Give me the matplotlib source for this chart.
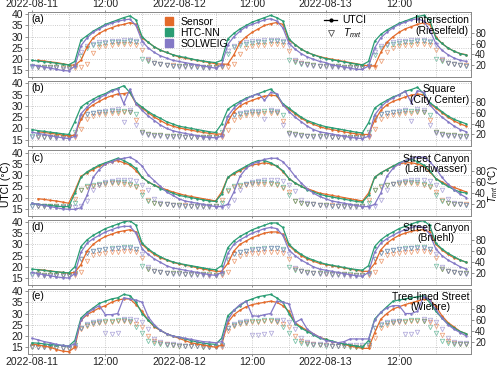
#!/usr/bin/env python3
# UTCI / Tmrt time series at five sites: sensor vs HTC-NN vs SOLWEIG
import numpy as np
import pandas as pd
import matplotlib
matplotlib.use('Agg')
import matplotlib.pyplot as plt
import matplotlib.dates as mdates
from matplotlib.lines import Line2D
from matplotlib.patches import Patch

nan = np.nan
times = pd.date_range('2022-08-11 00:00', periods=72, freq='h')

panel_tags = ['(a)', '(b)', '(c)', '(d)', '(e)']
site_names = ['Intersection\n(Rieselfeld)', 'Square\n(City Center)',
              'Street Canyon\n(Landwasser)', 'Street Canyon\n(Bruehl)',
              'Tree-lined Street\n(Wiehre)']
model_names = ['Sensor', 'HTC-NN', 'SOLWEIG']

# ---- (a) Intersection (Rieselfeld) ----
a_sen_utci = [nan,19.5,19.2,18.8,18.5,18.0,17.5,17.3,19.5,25.5,29.5,31.5,33.0,34.0,35.0,35.5,36.3,35.5,29.5,27.5,25.5,24.0,23.0,22.0,
              21.0,20.5,20.0,19.5,19.0,18.5,18.0,17.8,17.8,22.0,27.5,30.0,32.0,33.5,35.0,35.8,36.3,35.5,28.5,26.5,24.5,23.0,22.0,21.2,
              20.5,20.0,19.5,19.0,18.5,18.0,17.5,17.0,17.0,23.0,27.5,30.0,32.0,33.5,34.5,35.5,36.2,35.5,30.0,27.0,25.0,23.5,22.5,22.0]
a_htc_utci = [19.5,19.2,18.9,18.6,18.2,17.8,17.5,19.0,28.5,30.5,32.5,34.0,35.5,36.5,37.5,38.5,39.3,37.5,30.0,27.5,25.5,24.0,23.0,22.0,
              21.3,20.8,20.2,19.6,19.2,18.8,18.5,19.5,29.0,31.5,33.5,35.0,36.5,37.5,38.5,39.5,38.5,37.0,29.0,26.5,24.5,23.0,22.0,21.0,
              20.3,19.8,19.3,18.8,18.3,17.8,17.5,19.0,28.0,31.0,33.0,34.5,36.0,37.0,38.0,39.0,39.5,37.5,29.5,27.0,25.0,23.5,22.5,21.8]
a_sol_utci = [17.5,17.0,16.5,16.0,15.5,15.0,14.8,17.0,26.0,29.5,32.0,33.5,35.0,36.0,36.8,37.5,37.8,35.0,28.0,25.0,23.0,21.5,20.5,19.5,
              19.0,18.5,18.0,17.5,17.0,16.5,16.0,17.5,26.5,30.0,32.5,34.5,35.5,36.5,37.5,38.0,37.0,34.0,27.0,24.5,22.5,21.0,20.0,19.0,
              18.5,17.5,17.0,16.5,16.0,15.5,15.5,17.0,25.0,29.5,32.0,34.0,35.5,36.5,37.5,38.0,37.0,33.0,27.0,24.0,22.0,20.5,19.5,19.0]
a_sen_tmrt = [nan,17,16.5,16,16,15.5,15.5,15.5,17,23,43,54,56,58,59,60,60,58,48,29,25,23,21,20,
              19.5,19,18.5,18,17.5,17,16.5,16.5,17,22,40,52,55,57,58,59,59,57,46,28,24,22,20.5,19.5,
              19,18.5,18,17.5,17,16.5,16,16,16.5,28,45,52,55,57,58,59,59,57,48,29,25,23,21,20]
a_htc_tmrt = [18,17.5,17,17,16.5,16.5,16,19,37,52,57,59,61,62,63,63.5,64,62,31,27,24,22,20.5,19.5,
              19,18.5,18,17.5,17.5,17,17,19,40,53,58,60,61,62,63,64,64,62,30,26,23,21.5,20.5,19.5,
              19,18.5,18,17.5,17,17,16.5,19,38,52,57,60,61,62,63,64,64,62,31,27,24,22,20.5,19.5]
a_sol_tmrt = [16.5,16,15.5,15,14.5,14,14,19,45,55,60,62,63,64,65,66,66,65,60,31,25,22,20,18.5,
              17.5,17,16.5,16,15.5,15,15,19,46,56,61,63,64,65,66,67,66,64,58,30,24,21,19.5,18,
              17,16.5,16,15.5,15,14.5,14.5,18,44,55,60,62,64,65,66,66,66,64,58,31,25,22,20,18.5]

# ---- (b) Square (City Center) ----
b_sen_utci = [nan,18.5,18.2,17.8,17.5,17.0,16.7,17.0,24.0,28.5,30.5,32.0,33.5,34.5,35.3,35.5,36.0,31.0,29.0,27.0,25.0,23.5,22.0,21.0,
              20.3,19.7,19.2,18.7,18.2,17.8,17.5,17.5,23.0,27.5,30.0,31.5,32.5,33.5,34.3,34.8,34.5,30.5,28.5,26.5,24.5,23.0,21.8,20.8,
              20.0,19.5,19.0,18.5,18.0,17.6,17.3,17.3,23.5,28.0,30.5,32.0,33.0,34.0,34.8,35.3,35.0,31.0,29.0,27.0,25.0,23.3,22.0,21.0]
b_htc_utci = [19.5,19.0,18.7,18.3,18.0,17.6,17.3,23.0,29.5,31.5,33.0,34.5,35.5,37.0,37.8,39.0,36.0,31.5,29.5,27.5,25.8,24.5,23.0,22.0,
              21.0,20.5,20.0,19.5,19.0,18.5,18.2,22.0,28.5,30.5,32.0,33.5,34.5,35.5,36.5,37.5,35.0,31.0,29.0,27.0,25.0,23.5,22.5,21.5,
              20.8,20.3,19.8,19.3,18.8,18.3,18.0,22.5,29.0,31.0,32.5,34.0,35.0,36.5,37.3,38.3,35.5,31.5,29.5,27.5,25.5,24.0,23.0,22.0]
b_sol_utci = [18.3,17.8,17.3,16.8,16.3,15.8,15.5,16.5,26.5,29.5,32.0,33.5,35.0,36.5,37.5,31.0,37.5,31.0,28.0,25.5,23.5,21.5,20.0,19.0,
              18.3,17.8,17.3,16.8,16.3,16.0,15.8,16.5,25.5,29.0,31.5,33.0,34.5,35.5,32.5,36.0,35.5,30.5,27.5,25.0,23.0,21.0,19.5,18.5,
              18.0,17.5,17.0,16.5,16.0,15.7,15.5,16.5,26.0,29.5,32.0,33.5,35.0,36.5,31.5,36.8,36.0,30.5,27.5,25.0,23.0,21.0,19.5,18.5]
b_sen_tmrt = [nan,16,15.5,15,15,14.5,14.5,15,30,48,54,57,58,59,60,61,61,46,24,21,19.5,18.5,17.5,17,
              16.5,16,15.5,15,15,14.5,14.5,15,29,47,53,56,57,58,59,60,60,45,23,20.5,19,18,17.5,17,
              16.5,16,15.5,15,15,14.5,14.5,15,30,48,54,56,58,59,60,61,61,46,24,21,19.5,18.5,18,17.5]
b_htc_tmrt = [17,16.5,16,16,15.5,15,15,25,52,57,59,61,62,63,64,64,62,57,24,21,19.5,18.5,17.5,17,
              16.5,16,16,15.5,15,15,15,24,50,56,58,60,61,62,63,63,61,55,23,20.5,19,18,17.5,17,
              16.5,16,16,15.5,15,15,15,25,51,57,59,61,62,63,64,64,62,56,24,21,19.5,18.5,18,17.5]
b_sol_tmrt = [16,15.5,15,14.5,14,14,13.5,18,50,57,60,62,64,65,66,43,65,37,22,19,17.5,16.5,16,15.5,
              15.5,15,14.5,14.5,14,13.5,13.5,17,48,56,59,61,63,64,48,65,64,38,21,18.5,17,16.5,16,15.5,
              15.5,15,14.5,14.5,14,13.5,13.5,17,49,57,60,62,64,65,44,66,65,38,22,19,17.5,16.5,16,15.5]

# ---- (c) Street Canyon (Landwasser) ----
c_sen_utci = [nan,19.5,19.2,18.8,18.5,18.0,17.5,23.0,29.5,31.0,32.5,34.0,35.0,36.0,36.5,35.5,34.5,32.0,29.0,27.0,25.5,24.5,23.5,22.5,
              21.8,21.0,20.5,20.0,19.5,19.0,18.5,22.5,29.0,30.5,32.0,33.5,34.5,35.0,35.5,35.0,34.0,31.5,28.5,26.5,25.0,24.0,23.0,22.0,
              21.5,21.0,20.5,20.0,19.5,19.0,18.5,22.0,29.0,31.0,32.5,34.0,35.0,35.5,35.5,35.0,34.0,31.5,28.5,27.0,25.5,24.5,23.5,22.5]
c_htc_utci = [17.5,17.0,16.8,16.5,16.2,16.0,16.0,22.0,29.0,31.5,33.0,34.5,35.5,36.5,37.5,36.5,35.0,33.0,29.0,27.0,25.5,24.0,23.0,22.0,
              21.0,20.5,20.0,19.5,19.0,18.5,18.3,21.5,29.0,31.0,32.5,34.0,35.5,36.5,36.5,35.5,34.0,32.0,28.5,26.5,25.0,23.5,22.5,21.5,
              20.8,20.3,19.8,19.3,18.8,18.3,18.0,21.0,29.0,31.0,32.5,34.0,35.5,36.5,37.0,36.0,34.5,32.0,28.5,26.5,25.0,23.5,22.5,22.0]
c_sol_utci = [17.5,17.0,16.5,16.0,15.5,15.0,14.8,14.8,15.5,21.0,29.0,32.5,35.0,36.0,37.0,37.5,38.0,36.5,34.0,30.0,27.5,25.0,22.5,21.0,
              19.5,18.5,18.0,17.5,17.0,16.5,16.0,16.0,17.0,22.5,29.5,33.0,35.0,36.0,37.0,37.5,37.5,36.0,33.0,29.5,26.5,24.0,22.0,20.5,
              19.5,18.5,18.0,17.5,17.0,16.5,16.0,16.0,17.0,22.0,29.5,33.0,35.0,36.5,37.5,38.0,38.0,36.0,33.0,29.0,26.0,23.5,21.5,20.0]
c_sen_tmrt = [nan,16,15.5,15,15,14.5,14.5,28,45,50,53,55,57,58,58,57,55,50,42,26,22,20,19,18,
              17.5,17,16.5,16,15.5,15,15,27,44,50,53,55,56,57,57,56,54,49,41,25,21.5,20,19,18,
              17.5,17,16.5,16,15.5,15,15,27,45,51,54,56,57,58,58,57,55,50,42,26,22,20,19,18.5]
c_htc_tmrt = [16.5,16,15.5,15.5,15,15,15,22,46,52,55,57,58,59,60,59,57,52,36,24,21,19.5,18.5,17.5,
              17,16.5,16,15.5,15,15,15,22,46,52,55,57,58,59,59,58,56,51,35,24,21,19.5,18.5,17.5,
              17,16.5,16,15.5,15,15,15,22,46,52,55,57,58,59,60,59,57,52,36,24,21,19.5,18.5,18]
c_sol_tmrt = [16,15.5,15,14.5,14,13.5,13.5,13.5,16,25,45,55,59,61,63,64,64,62,55,45,28,22,19,17.5,
              16.5,16,15,14.5,14,13.5,13.5,13.5,16,27,46,56,60,62,63,64,64,61,54,44,27,21,19,17.5,
              16.5,16,15,14.5,14,13.5,13.5,13.5,16,26,46,56,60,62,63,64,64,62,55,45,28,22,19,18]

# ---- (d) Street Canyon (Bruehl) ----
d_sen_utci = [nan,18.8,18.5,18.2,17.8,17.5,17.2,17.5,21.0,27.0,30.0,32.0,33.5,34.5,35.5,36.0,36.5,35.5,30.0,27.5,25.5,24.0,23.0,22.0,
              21.3,20.8,20.2,19.6,19.0,18.5,18.0,18.0,21.5,27.0,30.0,31.5,33.0,34.0,35.0,35.5,35.5,34.5,29.5,27.0,25.0,23.5,22.5,21.5,
              21.0,20.5,20.0,19.5,19.0,18.5,18.0,18.0,21.5,27.5,30.5,32.5,34.0,35.0,35.8,36.3,36.5,35.5,30.0,27.5,25.5,24.0,23.0,22.0]
d_htc_utci = [19.0,18.7,18.4,18.0,17.8,17.5,17.3,20.0,29.0,32.0,34.0,35.5,37.0,38.0,39.0,40.0,40.5,38.5,30.5,28.0,26.0,24.5,23.2,22.2,
              21.5,21.0,20.5,20.0,19.5,19.0,18.7,20.5,28.5,31.5,33.5,35.0,36.5,37.5,38.5,39.5,39.5,37.5,30.0,27.5,25.5,24.0,23.0,22.0,
              21.2,20.7,20.2,19.7,19.2,18.8,18.5,20.5,29.0,32.0,34.0,35.5,37.0,38.0,39.0,40.0,40.5,38.5,30.5,28.0,26.0,24.5,23.0,22.0]
d_sol_utci = [17.5,17.0,16.5,16.0,15.5,15.2,15.0,17.0,26.5,30.5,32.5,34.0,35.5,36.5,37.5,38.0,38.0,35.0,28.0,25.5,23.5,22.0,20.5,19.5,
              19.0,18.5,18.0,17.5,17.0,16.5,16.2,17.5,26.0,30.0,32.0,33.5,35.0,36.0,37.0,37.5,37.0,34.0,27.5,25.0,23.0,21.5,20.0,19.0,
              18.5,18.0,17.5,17.0,16.5,16.0,15.8,17.5,26.5,30.5,32.5,34.0,35.5,36.5,37.5,38.0,37.5,34.5,28.0,25.0,23.0,21.5,20.0,19.0]
d_sen_tmrt = [nan,17,16.5,16,16,15.5,15.5,15.5,22,42,52,55,57,58,59,60,60,58,47,28,24,22,20.5,19.5,
              19,18.5,18,17.5,17,16.5,16,16,21,41,51,54,56,57,58,59,59,57,46,27,23.5,21.5,20,19,
              18.5,18,17.5,17,16.5,16,16,16,22,42,52,55,57,58,59,60,60,58,47,28,24,22,20.5,19.5]
d_htc_tmrt = [17.5,17,16.5,16.5,16,16,15.5,20,45,56,60,62,64,65,66,67,67,64,32,27,24,22,20.5,19.5,
              19,18.5,18,17.5,17,17,16.5,20,44,55,59,61,63,64,65,66,66,63,31,26,23.5,21.5,20,19,
              19,18.5,18,17.5,17,16.5,16.5,20,45,56,60,62,64,65,66,67,67,64,32,27,24,22,20.5,19.5]
d_sol_tmrt = [16,15.5,15,14.5,14,14,13.5,18,46,56,60,62,63,64,65,66,66,63,55,30,24,21,19.5,18,
              17.5,17,16.5,16,15.5,15,14.5,18,45,55,59,61,62,63,64,65,65,62,54,29,23,20.5,19,17.5,
              17,16.5,16,15.5,15,14.5,14.5,18,46,56,60,62,63,64,65,66,66,63,55,30,24,21,19.5,18]

# ---- (e) Tree-lined Street (Wiehre) ----
e_sen_utci = [16.5,16.0,15.5,15.0,14.0,13.3,13.0,15.0,27.0,29.5,31.0,32.5,33.5,35.0,36.0,36.5,36.5,34.0,31.0,27.0,24.0,22.5,21.0,20.0,
              19.0,18.0,17.0,16.5,16.0,15.5,15.0,16.0,26.0,29.5,31.5,33.0,34.0,34.5,35.0,35.5,35.0,33.5,31.0,26.0,24.0,22.5,21.0,19.5,
              18.5,17.5,17.0,16.5,15.5,15.0,14.5,14.5,21.5,27.5,30.0,32.0,33.0,34.0,34.8,35.5,36.3,36.0,33.3,29.0,26.0,24.0,22.0,21.0]
e_htc_utci = [17.0,16.8,16.5,16.2,16.0,15.8,15.5,18.0,28.0,30.5,32.5,34.5,35.5,36.5,37.0,38.5,38.0,35.0,30.0,27.0,24.5,22.5,21.0,20.0,
              19.5,18.8,18.0,17.3,16.8,16.5,16.3,19.0,29.0,31.5,33.5,35.5,36.5,37.5,38.0,38.5,37.0,35.0,30.0,25.5,23.5,22.0,20.5,19.0,
              18.5,17.8,17.0,16.5,16.0,15.5,15.0,18.0,27.5,30.5,33.0,35.5,36.0,36.5,37.0,37.5,37.8,35.0,31.0,28.0,25.5,23.5,22.0,21.0]
e_sol_utci = [19.0,18.3,17.5,17.0,16.3,15.8,15.5,16.5,27.0,30.0,32.0,33.5,29.5,29.5,30.0,37.0,36.5,36.0,35.0,28.5,25.0,22.5,21.0,20.0,
              19.5,19.0,18.5,18.0,17.5,17.3,17.0,17.5,27.0,31.5,34.0,35.5,29.0,28.8,29.5,30.0,35.5,35.0,34.3,26.0,27.5,23.0,21.0,19.5,
              18.0,17.5,17.0,17.5,18.7,18.7,18.7,18.7,27.0,30.5,32.5,33.5,33.5,30.0,30.0,31.0,37.5,36.0,31.8,28.0,25.0,23.0,21.5,20.0]
e_sen_tmrt = [11,10.5,10,9.5,9,8.5,8,9,44,50,53,55,56,57,58,58,57,53,47,32,22,18,16,15,
              13.5,13,12.5,12,11.5,11,10.5,11,40,50,53,55,56,57,58,58,57,53,47,32,22,18,16,15,
              14,13.5,13,12.5,12,11.5,11,11,28,46,52,55,56,57,58,58,58,56,50,33,22,18.5,17,16.5]
e_htc_tmrt = [11,10.5,10,10,9.5,9,9,14,46,52,55,57,58,59,60,60,58,48,36,22,18.5,16.5,15,14,
              13.5,13,12.5,12,11.5,11,11,15,46,52,55,57,58,59,60,60,58,48,36,22,18,16.5,15,14,
              13.5,13,12.5,12,11.5,11,11,15,46,52,55,57,58,59,60,60,58,48,36,22,18.5,17,16.5,16]
e_sol_tmrt = [12,11.5,11,10.5,10,9.5,9,11,46,53,56,58,36,35,36,62,62,61,57,44,26,20,17,15.5,
              14,13.5,13,12.5,12,11.5,11.5,13,45,53,56,58,33,33,34,36,61,60,57,44,28,20,17,15.5,
              14,13.5,13,14,15,15,15,15,45,53,56,58,58,35,35,38,62,60,57,44,28,20,18,17.5]

utci = [[a_sen_utci, a_htc_utci, a_sol_utci], [b_sen_utci, b_htc_utci, b_sol_utci],
        [c_sen_utci, c_htc_utci, c_sol_utci], [d_sen_utci, d_htc_utci, d_sol_utci],
        [e_sen_utci, e_htc_utci, e_sol_utci]]
tmrt = [[a_sen_tmrt, a_htc_tmrt, a_sol_tmrt], [b_sen_tmrt, b_htc_tmrt, b_sol_tmrt],
        [c_sen_tmrt, c_htc_tmrt, c_sol_tmrt], [d_sen_tmrt, d_htc_tmrt, d_sol_tmrt],
        [e_sen_tmrt, e_htc_tmrt, e_sol_tmrt]]

colors = ['#e36a2a', '#2a9d74', '#8479c6']

plt.rcParams.update({
    'font.family': ['Liberation Sans', 'DejaVu Sans'], 'font.size': 7.5,
    'mathtext.fontset': 'custom', 'mathtext.rm': 'Liberation Sans',
    'mathtext.it': 'Liberation Sans:italic',
    'axes.edgecolor': '#888888', 'xtick.color': '#666666', 'ytick.color': '#666666',
    'xtick.labelcolor': '#222222', 'ytick.labelcolor': '#222222',
})


def fmt_date(x, pos=None):
    d = mdates.num2date(x)
    return d.strftime('%Y-%m-%d') if d.hour == 0 else d.strftime('%H:%M')


W, H = 500, 368
fig = plt.figure(figsize=(W / 100, H / 100), dpi=100)
x0 = times[0] - pd.Timedelta(minutes=39)
x1 = times[0] + pd.Timedelta(hours=71, minutes=45)

ph, pitch = 65.2, 69.2
for i in range(5):
    top = 12 + i * pitch
    ax = fig.add_axes([28 / W, 1 - (top + ph) / H, 443 / W, ph / H])
    ax2 = ax.twinx()
    for k in range(3):
        ax2.plot(times, tmrt[i][k], ls='none', marker='v', ms=3.2, mfc='none',
                 mec=colors[k], mew=0.6, alpha=0.6)
        ax.plot(times, utci[i][k], color=colors[k], lw=0.9, marker='.', ms=1.5)
    ax.set_zorder(ax2.get_zorder() + 1)
    ax.patch.set_visible(False)

    ax.set_xlim(x0, x1)
    ax.set_ylim(12, 41)
    ax.set_yticks([15, 20, 25, 30, 35, 40])
    ax2.set_ylim(-2, 118)
    ax2.set_yticks([20, 40, 60, 80])
    ax.xaxis.set_major_locator(mdates.HourLocator(byhour=[0, 12]))
    ax.xaxis.set_minor_locator(mdates.HourLocator(byhour=[6, 18]))
    ax.xaxis.set_major_formatter(plt.FuncFormatter(fmt_date))
    ax.grid(True, which='both', axis='x', ls=':', lw=0.6, color='#bbbbbb')
    ax.grid(True, which='major', axis='y', ls=':', lw=0.6, color='#bbbbbb')
    ax.tick_params(axis='both', which='both', length=2, width=0.5, pad=1.5)
    ax.tick_params(axis='x', which='major', length=1.5, pad=0.5)
    ax.tick_params(axis='x', which='minor', length=0)
    ax2.tick_params(axis='y', length=2, width=0.5, pad=1.0, labelsize=7)
    for sp in list(ax.spines.values()) + list(ax2.spines.values()):
        sp.set_linewidth(0.6)
    if i == 0:
        ax.tick_params(axis='x', which='major', labeltop=True, labelbottom=False, top=True)
    elif i < 4:
        ax.tick_params(axis='x', labelbottom=False)

    ax.text(0.008, 0.965, panel_tags[i], transform=ax.transAxes, ha='left', va='top')
    ax.text(0.996, 0.95, site_names[i], transform=ax.transAxes, ha='right', va='top',
            multialignment='center', linespacing=1.05)

    if i == 0:
        h1 = [Patch(color=c) for c in colors]
        leg1 = ax.legend(h1, model_names, loc='upper left', bbox_to_anchor=(0.31, 0.93),
                         frameon=False, handlelength=0.75, handleheight=0.75,
                         handletextpad=0.7, labelspacing=0.1, borderpad=0, borderaxespad=0)
        ax.add_artist(leg1)
        h2 = [Line2D([], [], color='k', lw=0.9, marker='.', ms=4),
              Line2D([], [], color='#555555', ls='none', marker='v', ms=4, mfc='none', mew=0.6)]
        ax.legend(h2, ['UTCI', r'$T_{mrt}$'], loc='upper left', bbox_to_anchor=(0.668, 0.95),
                  frameon=False, handlelength=1.3, handletextpad=0.5, labelspacing=0.1,
                  borderpad=0, borderaxespad=0)

fig.text(0.012, 0.5, 'UTCI (°C)', rotation=90, ha='center', va='center')
fig.text(0.987, 0.5, r'$T_{mrt}$ (°C)', rotation=90, ha='center', va='center', fontsize=7)

plt.savefig('out.png', dpi=100)
plt.close()
